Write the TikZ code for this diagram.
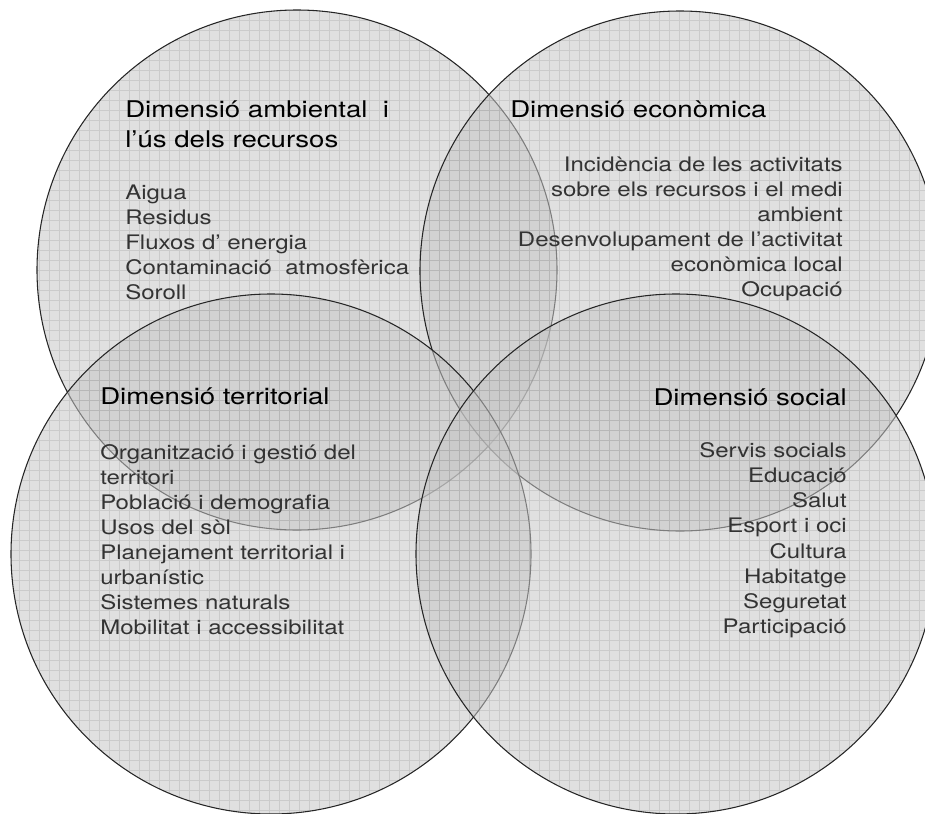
\documentclass[tikz,border=0pt]{standalone}
\usepackage{fontspec}
\setmainfont{TeX Gyre Heros}[FakeStretch=1.2]
\definecolor{vennfill}{RGB}{198,198,198}
\tikzset{
  venn/.style={fill=vennfill, fill opacity=.55},
  vennline/.style={draw=black!85, line width=.8pt},
  gridline/.style={draw=black!50, opacity=.22, line width=.6pt},
  dimtitle/.style={font=\fontsize{17.25}{22.5}\selectfont, text=black, inner sep=0pt},
  item/.style={font=\fontsize{15}{18.75}\selectfont, text=black!80, inner sep=0pt},
}
\begin{document}
\begin{tikzpicture}[x=.75pt, y=-.75pt]
\useasboundingbox (0,0) rectangle (925,814);
\coordinate (amb) at (297,270);
\coordinate (eco) at (680,271);
\coordinate (ter) at (271,554);
\coordinate (soc) at (676,554);
\foreach \c in {amb,eco,ter,soc}
{
    \begin{scope}
        \clip (\c) circle (260);
        \fill[venn] (\c) circle (260);
        \draw[gridline, shift={(9.3,.7)}, step=7.5pt] (-20,830) grid (940,-20);
    \end{scope}
    \draw[vennline] (\c) circle (260);
}

\node[dimtitle, anchor=base west] (ambT1) at (125,117) {Dimensió ambiental\ \ i};
\node[dimtitle, anchor=base west] (ambT2) at (125,147) {l’ús dels recursos};
\foreach \t [count=\i] in {Aigua, Residus, Fluxos d’ energia, Contaminació\ \ atmosfèrica, Soroll}
{
    \node[item, anchor=base west] (amb\i) at (125,174+25*\i) {\t};
}

\node[dimtitle, anchor=base west] (ecoT) at (510,117) {Dimensió econòmica};
\foreach \t [count=\i] in {Incidència de les activitats, sobre els recursos i el medi, ambient, Desenvolupament de l’activitat, econòmica local, Ocupació}
{
    \node[item, anchor=base east] (eco\i) at (843,146+25*\i) {\t};
}

\node[dimtitle, anchor=base west] (terT) at (100,404) {Dimensió territorial};
\foreach \t [count=\i] in {Organització i gestió del, territori, Població i demografia, Usos del sòl, Planejament territorial i, urbanístic, Sistemes naturals, Mobilitat i accessibilitat}
{
    \node[item, anchor=base west] (ter\i) at (100,434+25*\i) {\t};
}

\node[dimtitle, anchor=base east] (socT) at (847,405) {Dimensió social};
\foreach \t [count=\i] in {Servis socials, Educació, Salut, Esport i oci, Cultura, Habitatge, Seguretat, Participació}
{
    \node[item, anchor=base east] (soc\i) at (847,432+25.2*\i) {\t};
}
\end{tikzpicture}
\end{document}
